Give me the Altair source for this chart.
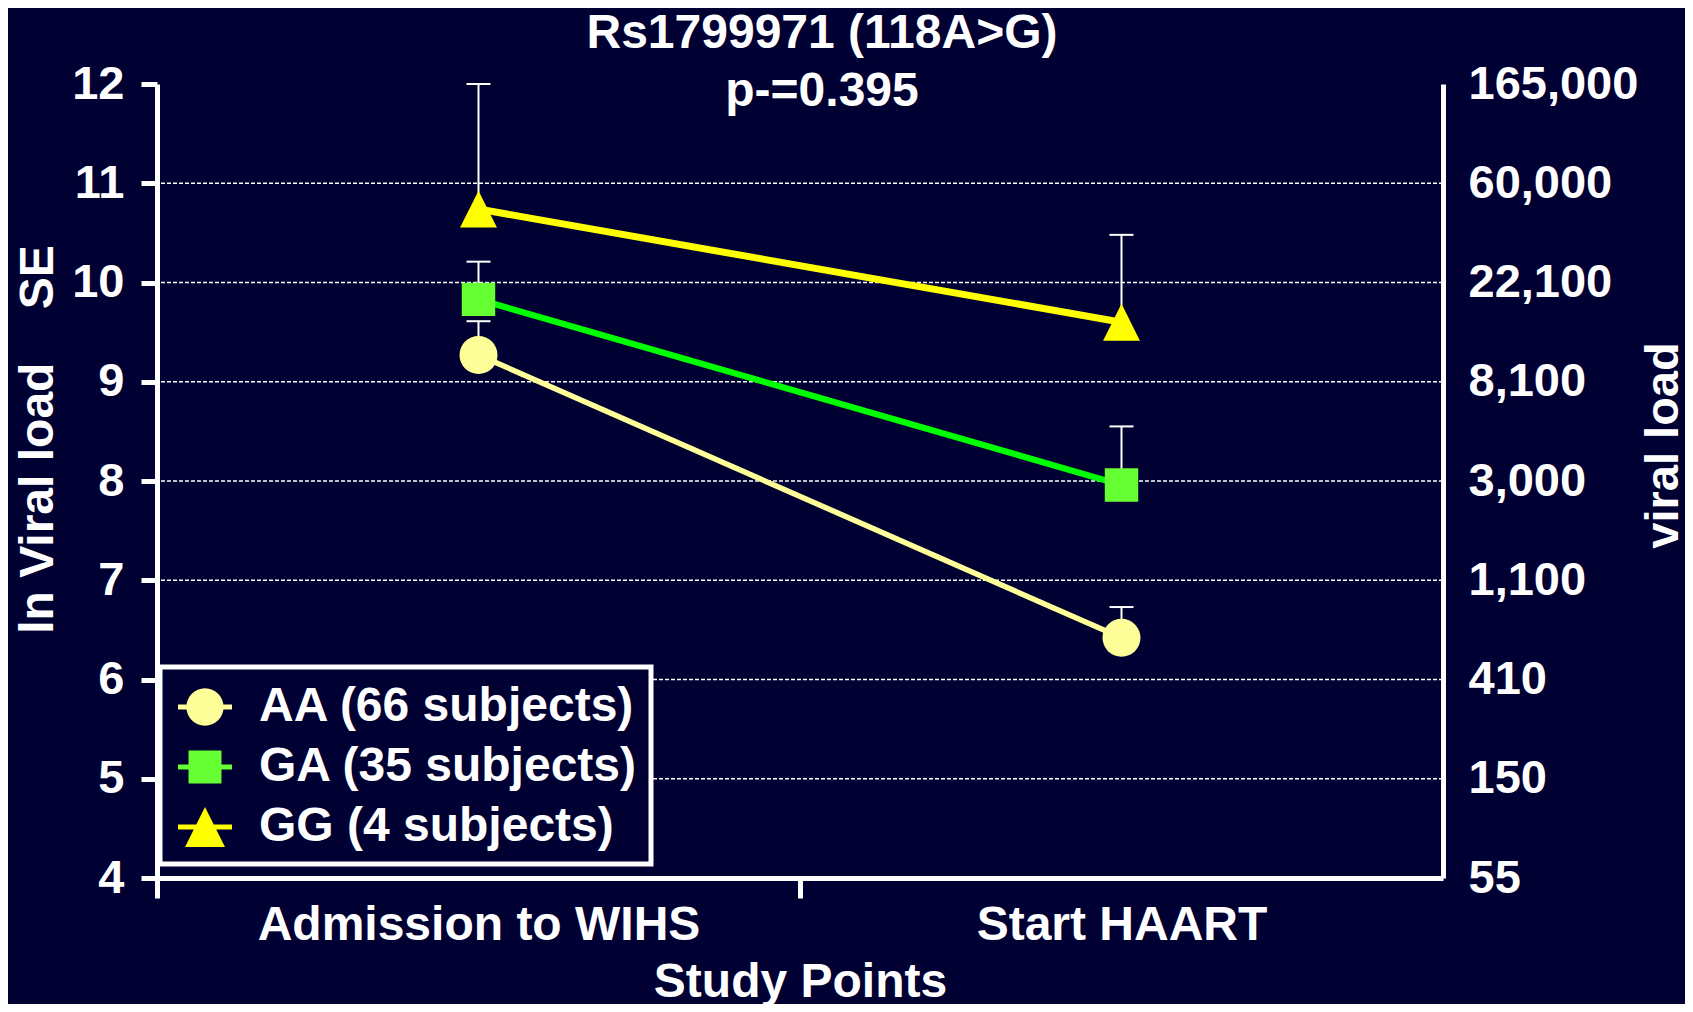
import json
import altair as alt
import pandas as pd

# ---------------- data ----------------
groups = ["AA (66 subjects)", "GA (35 subjects)", "GG (4 subjects)"]
timepoints = ["Admission to WIHS", "Start HAART"]
time_pos = [1, 3]
mean_aa = [9.27, 6.42]
mean_ga = [9.83, 7.96]
mean_gg = [10.74, 9.60]
upper_aa = [9.61, 6.73]
upper_ga = [10.21, 8.55]
upper_gg = [12.00, 10.48]
left_ticks = [4, 5, 6, 7, 8, 9, 10, 11, 12]
right_labels = ["55", "150", "410", "1,100", "3,000", "8,100", "22,100", "60,000", "165,000"]
grid_values = [5, 6, 7, 8, 9, 10, 11]
x_tick_values = [0, 1, 2, 3]

# ---------------- styles ----------------
FONT = "Liberation Sans"
BG = "#000033"
marker_colors = ["#FFFF99", "#66FF33", "#FFFF00"]
line_colors = ["#FFFF99", "#00FF00", "#FFFF00"]
line_widths = [5.5, 7, 7]
plot_shapes = ["circle", "M-0.88,-0.88H0.88V0.88H-0.88Z", "M0,-0.97L0.97,0.97L-0.97,0.97Z"]
bar = "M-1,-0.09L1,-0.09L1,0.09L-1,0.09Z"
legend_paths = [
    bar + "M-0.69,0A0.69,0.69,0,1,1,0.69,0A0.69,0.69,0,1,1,-0.69,0Z",
    bar + "M-0.61,-0.61L0.61,-0.61L0.61,0.61L-0.61,0.61Z",
    bar + "M0,-0.74L0.74,0.74L-0.74,0.74Z",
]

rows = []
for g, ms, us in zip(groups, [mean_aa, mean_ga, mean_gg], [upper_aa, upper_ga, upper_gg]):
    for t, xp, m, u in zip(timepoints, time_pos, ms, us):
        rows.append({"group": g, "time": t, "x": xp, "mean": m, "hi": u})
df = pd.DataFrame(rows)
grid_df = pd.DataFrame({"v": grid_values})

pos_js = json.dumps(time_pos)
lab_js = json.dumps(timepoints)
x_label_expr = f"indexof({pos_js}, datum.value) >= 0 ? {lab_js}[indexof({pos_js}, datum.value)] : ''"
right_label_expr = f"{json.dumps(right_labels)}[indexof({json.dumps(left_ticks)}, datum.value)]"

yscale = alt.Scale(domain=[4, 12], nice=False, zero=False)
xscale = alt.Scale(domain=[0, 4], nice=False, zero=False)

x_axis = alt.Axis(
    values=x_tick_values, labelExpr=x_label_expr, grid=False,
    domainColor="white", domainWidth=5,
    tickColor="white", tickWidth=5, tickSize=20,
    tickOpacity={"condition": {"test": f"indexof({pos_js}, datum.value) >= 0", "value": 0}, "value": 1},
    labelPadding=3, labelFont=FONT, labelFontSize=48, labelFontWeight="bold",
    labelColor="white", labelLimit=800, labelOverlap=False, labelFlush=False,
    title="Study Points", titleFont=FONT, titleFontSize=48, titleFontWeight="bold",
    titleColor="white", titlePadding=9,
)
x_enc = alt.X("x:Q", scale=xscale, axis=x_axis)

left_axis = alt.Axis(
    orient="left", values=left_ticks, format="d", grid=False,
    domainColor="white", domainWidth=5,
    tickColor="white", tickWidth=5, tickSize=16,
    labelPadding=17, labelFont=FONT, labelFontSize=47, labelFontWeight="bold",
    labelColor="white", labelOverlap=False, labelFlush=False, labelLimit=300,
    title="ln Viral load\u00a0\u00a0\u00a0\u00a0SE", titleFont=FONT, titleFontSize=48,
    titleFontWeight="bold", titleColor="white", titleAngle=270,
    titleX=-119, titleY=355, titleBaseline="middle", titleAlign="center", titleLimit=900,
)
right_axis = alt.Axis(
    orient="right", values=left_ticks, labelExpr=right_label_expr, grid=False,
    domainColor="white", domainWidth=5, ticks=False, tickSize=0,
    labelPadding=25, labelFont=FONT, labelFontSize=47, labelFontWeight="bold",
    labelColor="white", labelOverlap=False, labelFlush=False, labelLimit=400,
    title="viral load", titleFont=FONT, titleFontSize=47, titleFontWeight="bold",
    titleColor="white", titleAngle=270,
    titleX=220, titleY=361, titleBaseline="middle", titleAlign="center", titleLimit=900,
)

grid = alt.Chart(grid_df).mark_rule(color="white", strokeWidth=1.3, strokeDash=[4, 2]).encode(
    y=alt.Y("v:Q", scale=yscale, axis=left_axis)
)

base = alt.Chart(df)

err = base.mark_rule(color="white", strokeWidth=2).encode(
    x=x_enc, y=alt.Y("mean:Q", scale=yscale, axis=None), y2="hi:Q"
)
caps = base.mark_tick(color="white", orient="horizontal", size=24, thickness=2, opacity=1).encode(
    x=x_enc, y=alt.Y("hi:Q", scale=yscale, axis=None)
)
lines = base.mark_line().encode(
    x=x_enc,
    y=alt.Y("mean:Q", scale=yscale, axis=right_axis),
    stroke=alt.Stroke("group:N", scale=alt.Scale(domain=groups, range=line_colors), legend=None),
    strokeWidth=alt.StrokeWidth("group:N", scale=alt.Scale(domain=groups, range=line_widths), legend=None),
)
points = base.mark_point(filled=True, opacity=1, size=1444, strokeWidth=0).encode(
    x=x_enc,
    y=alt.Y("mean:Q", scale=yscale, axis=None),
    fill=alt.Fill("group:N", scale=alt.Scale(domain=groups, range=marker_colors), legend=None),
    shape=alt.Shape("group:N", scale=alt.Scale(domain=groups, range=plot_shapes), legend=None),
)

legend_spec = alt.Legend(
    title=None, orient="none", legendX=3, legendY=583, direction="vertical",
    labelFont=FONT, labelFontSize=48, labelFontWeight="bold", labelColor="white",
    labelExpr="datum.label + '\u00a0\u00a0'",
    labelLimit=0, labelOffset=27, rowPadding=9, padding=13, symbolOffset=5,
    symbolSize=2916, symbolStrokeWidth=0, symbolOpacity=1,
    strokeColor="white", fillColor=BG,
)
legend_layer = base.mark_point(filled=True, opacity=0).encode(
    x=x_enc,
    y=alt.Y("mean:Q", scale=yscale, axis=None),
    fill=alt.Fill("group:N", scale=alt.Scale(domain=groups, range=marker_colors), legend=legend_spec),
    shape=alt.Shape("group:N", scale=alt.Scale(domain=groups, range=legend_paths), legend=legend_spec),
)

chart = (
    alt.layer(grid, err, caps, lines, points, legend_layer)
    .resolve_scale(fill="independent", shape="independent")
    .resolve_axis(y="independent")
    .properties(
        width=1286, height=794,
        autosize=alt.AutoSizeParams(type="none"),
        padding={"left": 149, "top": 76, "right": 242, "bottom": 126},
        title=alt.Title(
            text="Rs1799971 (118A>G)", subtitle="p-=0.395",
            font=FONT, fontSize=48, fontWeight="bold", color="white",
            subtitleFont=FONT, subtitleFontSize=48, subtitleFontWeight="bold",
            subtitleColor="white", subtitlePadding=10,
            anchor="middle", frame="group", dx=22, offset=-56,
        ),
    )
    .configure(background=BG)
    .configure_view(stroke=None)
    .configure_legend(strokeWidth=5)
)

chart.save("out.html", embed_options={"renderer": "svg", "actions": False})
